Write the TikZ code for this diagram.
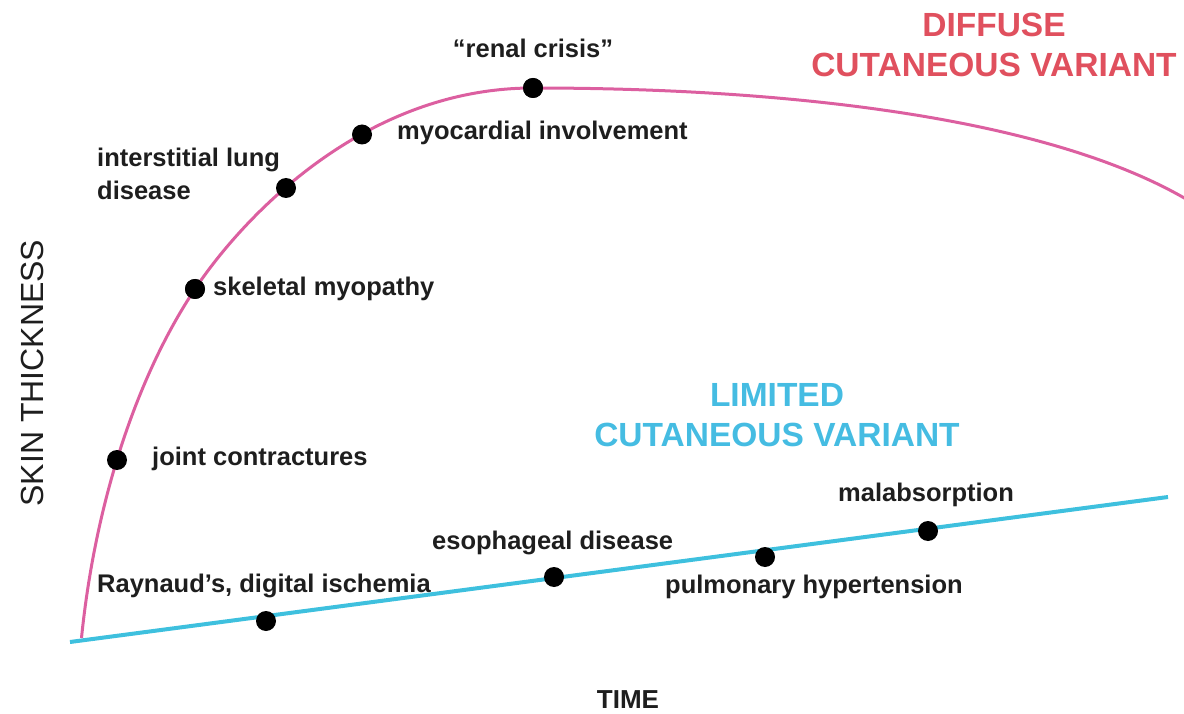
\documentclass[tikz,border=0pt]{standalone}
\usepackage{fontspec}
\setmainfont{Liberation Sans}
\definecolor{pinkc}{HTML}{DC5FA0}
\definecolor{bluec}{HTML}{3EC0DE}
\definecolor{redt}{HTML}{E0505E}
\definecolor{bluet}{HTML}{45BCE2}
\definecolor{labc}{HTML}{1E1E1E}
\tikzset{
  dotn/.style={circle,fill=black,inner sep=0pt,minimum size=20pt},
  lab/.style={text=labc,font=\bfseries\fontsize{25.5}{33}\selectfont,inner sep=0pt},
  head/.style={font=\bfseries\fontsize{33.5}{40}\selectfont,align=center,inner sep=0pt},
  axl/.style={text=labc,inner sep=0pt}
}
\begin{document}
\begin{tikzpicture}[x=1pt,y=-1pt]
\useasboundingbox (0,0) rectangle (1184,714);
% limited line
\coordinate (b0) at (70,642);
\coordinate (b1) at (1168,497);
\draw[bluec,line width=4pt] (b0) -- (b1);
% diffuse curve
\coordinate (p0) at (81.5,638);
\coordinate (pend) at (1186,199);
\node[dotn] (sm) at (195,289) {};
\node[dotn] (rc) at (533,88) {};
\draw[pinkc,line width=3pt] (p0) .. controls (94.5,508.6) and (134,380.5) .. (sm.center)
  .. controls (242.2,218.3) and (363,88) .. (rc.center)
  .. controls (800,88) and (1050,120) .. (pend);
\node[dotn] (jc) at (117,460) {};
\node[dotn] (ild) at (286,188) {};
\node[dotn] (myo) at (362,134.5) {};
\foreach \n in {sm,rc} \fill (\n) circle (10pt);
% limited dots
\node[dotn] (ray) at (266,621) {};
\node[dotn] (eso) at (554,577) {};
\node[dotn] (pul) at (765,557) {};
\node[dotn] (mal) at (928,531) {};
% labels
\node[lab,anchor=mid] (rcl) at (533,55) {“renal crisis”};
\node[lab,anchor=mid west] (myol) at (397,137) {myocardial involvement};
\node[lab,anchor=west,align=left] (ildl) at (97,174) {interstitial lung\\disease};
\node[lab,anchor=mid west] (sml) at (213,293) {skeletal myopathy};
\node[lab,anchor=mid west] (jcl) at (152,463) {joint contractures};
\node[lab,anchor=mid west] (rayl) at (97,590) {Raynaud’s, digital ischemia};
\node[lab,anchor=mid west] (esol) at (432,547) {esophageal disease};
\node[lab,anchor=mid west] (pull) at (665,591) {pulmonary hypertension};
\node[lab,anchor=mid west] (mall) at (838,499) {malabsorption};
% headings
\node[head,text=redt] (dif) at (994,45) {DIFFUSE\\CUTANEOUS VARIANT};
\node[head,text=bluet] (lim) at (777,415) {LIMITED\\CUTANEOUS VARIANT};
% axes labels
\node[axl,font=\fontsize{32}{38}\selectfont,rotate=90] (yl) at (32,373) {SKIN THICKNESS};
\node[axl,font=\bfseries\fontsize{26}{30}\selectfont] (xl) at (628,700) {TIME};
\end{tikzpicture}
\end{document}
